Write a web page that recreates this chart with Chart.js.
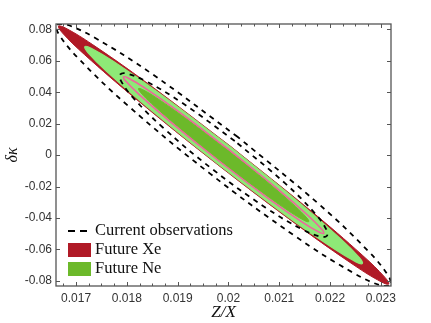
<!DOCTYPE html>
<html>
<head>
<meta charset="utf-8">
<script src="https://cdn.jsdelivr.net/npm/chart.js@4.4.1/dist/chart.umd.min.js"></script>
<style>
  html, body { margin: 0; padding: 0; background: #fff; }
  #wrap { width: 431px; height: 323px; }
</style>
</head>
<body>
<div id="wrap"><canvas id="chart" width="431" height="323"></canvas></div>
<script>
// tick labels
const xTicks = [0.017, 0.018, 0.019, 0.02, 0.021, 0.022, 0.023];
const yTicks = [-0.08, -0.06, -0.04, -0.02, 0, 0.02, 0.04, 0.06, 0.08];

// contour outlines, [Z/X, dk]
const currentOuter = [[0.020185,0.01149],[0.018502,0.05148],[0.017370,0.07463],[0.016799,0.08319],[0.016614,0.08305],[0.016654,0.07724],[0.017048,0.06144],[0.018017,0.03157],[0.019625,-0.01149],[0.021308,-0.05148],[0.022440,-0.07463],[0.023011,-0.08319],[0.023196,-0.08305],[0.023156,-0.07724],[0.022762,-0.06144],[0.021793,-0.03157]];
const currentInner = [[0.020124,0.00900],[0.019078,0.03345],[0.018364,0.04720],[0.017997,0.05190],[0.017871,0.05132],[0.017884,0.04724],[0.018113,0.03688],[0.018698,0.01787],[0.019686,-0.00900],[0.020732,-0.03345],[0.021446,-0.04720],[0.021813,-0.05190],[0.021939,-0.05132],[0.021926,-0.04724],[0.021697,-0.03688],[0.021112,-0.01787]];
const futureXe = [[0.020041,0.00560],[0.018397,0.04588],[0.017319,0.07044],[0.016799,0.08072],[0.016653,0.08207],[0.016729,0.07782],[0.017163,0.06402],[0.018161,0.03619],[0.019769,-0.00560],[0.021413,-0.04588],[0.022491,-0.07044],[0.023011,-0.08072],[0.023157,-0.08207],[0.023081,-0.07782],[0.022647,-0.06402],[0.021649,-0.03619]];
const futureNe2 = [[0.020033,0.00525],[0.018650,0.03902],[0.017740,0.05949],[0.017299,0.06796],[0.017173,0.06895],[0.017233,0.06524],[0.017594,0.05347],[0.018428,0.02993],[0.019777,-0.00525],[0.021160,-0.03902],[0.022070,-0.05949],[0.022511,-0.06796],[0.022637,-0.06895],[0.022577,-0.06524],[0.022216,-0.05347],[0.021382,-0.02993]];
const futureXe1 = [[0.019996,0.00375],[0.018999,0.02812],[0.018343,0.04291],[0.018025,0.04902],[0.017934,0.04975],[0.017978,0.04708],[0.018238,0.03861],[0.018840,0.02163],[0.019814,-0.00375],[0.020811,-0.02812],[0.021467,-0.04291],[0.021785,-0.04902],[0.021876,-0.04975],[0.021832,-0.04708],[0.021572,-0.03861],[0.020970,-0.02163]];
const futureNe1 = [[0.019984,0.00325],[0.019135,0.02397],[0.018577,0.03652],[0.018307,0.04171],[0.018229,0.04231],[0.018266,0.04003],[0.018487,0.03280],[0.018998,0.01834],[0.019826,-0.00325],[0.020675,-0.02397],[0.021233,-0.03652],[0.021503,-0.04171],[0.021581,-0.04231],[0.021544,-0.04003],[0.021323,-0.03280],[0.020812,-0.01834]];

const RED = '#b01a26';
const LIGHT_GREEN = '#8ee977';
const GREEN = '#6cb92a';
const PINK = '#f2619f';

// closed loop -> {x,y} points
const loop = pts => pts.concat([pts[0]]).map(p => ({ x: p[0], y: p[1] }));

const fmt = v => String(parseFloat(v.toFixed(4)));

// box with inward ticks on all four sides
const framePlugin = {
  id: 'frame',
  afterDatasetsDraw(chart) {
    const { ctx, chartArea: a, scales: { x, y } } = chart;
    ctx.save();
    ctx.strokeStyle = '#555';
    ctx.lineWidth = 1;
    ctx.beginPath();
    for (let v = 0.01675; v < 0.0232; v += 0.00025) {
      const px = Math.round(x.getPixelForValue(v)) + 0.5;
      const major = xTicks.some(t => Math.abs(t - v) < 1e-7);
      const len = major ? 4 : 2.5;
      ctx.moveTo(px, a.bottom); ctx.lineTo(px, a.bottom - len);
      ctx.moveTo(px, a.top); ctx.lineTo(px, a.top + len);
    }
    yTicks.forEach(v => {
      const py = Math.round(y.getPixelForValue(v)) + 0.5;
      ctx.moveTo(a.left, py); ctx.lineTo(a.left + 4, py);
      ctx.moveTo(a.right, py); ctx.lineTo(a.right - 4, py);
    });
    ctx.stroke();
    ctx.lineWidth = 1.3;
    ctx.strokeRect(a.left, a.top, a.right - a.left, a.bottom - a.top);
    ctx.restore();
  }
};

// legend in the lower left corner of the plot
const legendPlugin = {
  id: 'cornerLegend',
  afterDraw(chart) {
    const ctx = chart.ctx;
    const left = chart.chartArea.left + 12;
    ctx.save();
    ctx.font = '16.5px "Liberation Serif"';
    ctx.fillStyle = '#111';
    ctx.textBaseline = 'middle';
    ctx.strokeStyle = '#000';
    ctx.lineWidth = 2;
    ctx.setLineDash([7, 5]);
    ctx.beginPath();
    ctx.moveTo(left, 231); ctx.lineTo(left + 19, 231);
    ctx.stroke();
    ctx.setLineDash([]);
    ctx.fillText('Current observations', left + 27, 231);
    ctx.fillStyle = RED;
    ctx.fillRect(left, 243, 23, 14);
    ctx.fillStyle = GREEN;
    ctx.fillRect(left, 262, 23, 14);
    ctx.fillStyle = '#111';
    ctx.fillText('Future Xe', left + 27, 250);
    ctx.fillText('Future Ne', left + 27, 269);
    ctx.restore();
  }
};

const line = (pts, extra) => Object.assign({
  data: loop(pts),
  showLine: true,
  tension: 0.4,
  pointRadius: 0,
  borderWidth: 1
}, extra);

new Chart(document.getElementById('chart'), {
  type: 'scatter',
  data: {
    datasets: [
      line(currentOuter, { label: 'Current observations', borderColor: '#000', borderWidth: 1.8, borderDash: [5, 5], fill: false, order: 1 }),
      line(currentInner, { label: 'Current observations 1', borderColor: '#000', borderWidth: 1.8, borderDash: [5, 5], fill: false, order: 2 }),
      line(futureXe1, { label: 'Future Xe 1', borderColor: PINK, borderWidth: 1.5, fill: false, order: 3 }),
      line(futureNe1, { label: 'Future Ne 1', backgroundColor: GREEN, borderColor: GREEN, fill: 'shape', order: 4 }),
      line(futureNe2, { label: 'Future Ne', backgroundColor: LIGHT_GREEN, borderColor: LIGHT_GREEN, borderWidth: 1.2, fill: 'shape', order: 5 }),
      line(futureXe, { label: 'Future Xe', backgroundColor: RED, borderColor: RED, fill: 'shape', order: 6 })
    ]
  },
  options: {
    responsive: false,
    animation: false,
    events: [],
    layout: { padding: { top: 24, right: 40, left: 0, bottom: 0 } },
    plugins: { legend: { display: false }, tooltip: { enabled: false } },
    scales: {
      x: {
        type: 'linear',
        min: 0.016605,
        max: 0.0232,
        grid: { display: false, drawTicks: false },
        border: { display: false },
        afterBuildTicks: s => { s.ticks = xTicks.map(v => ({ value: v })); },
        afterFit: s => { s.height = 37; },
        ticks: { padding: 5, color: '#333', font: { family: '"Liberation Sans"', size: 12 }, callback: v => fmt(v), maxRotation: 0 },
        title: { display: true, text: 'Z/X', color: '#111', font: { family: '"Liberation Serif"', style: 'italic', size: 17 }, padding: { top: 0, bottom: 0 } }
      },
      y: {
        type: 'linear',
        min: -0.0833,
        max: 0.0834,
        grid: { display: false, drawTicks: false },
        border: { display: false },
        afterBuildTicks: s => { s.ticks = yTicks.map(v => ({ value: v })); },
        afterFit: s => { s.width = 56; },
        ticks: { padding: 4, color: '#333', font: { family: '"Liberation Sans"', size: 12 }, callback: v => fmt(v) },
        title: { display: true, text: 'δκ', color: '#111', font: { family: '"Liberation Serif"', style: 'italic', size: 16 }, padding: { top: 3, bottom: 0 } }
      }
    }
  },
  plugins: [framePlugin, legendPlugin]
});
</script>
</body>
</html>
